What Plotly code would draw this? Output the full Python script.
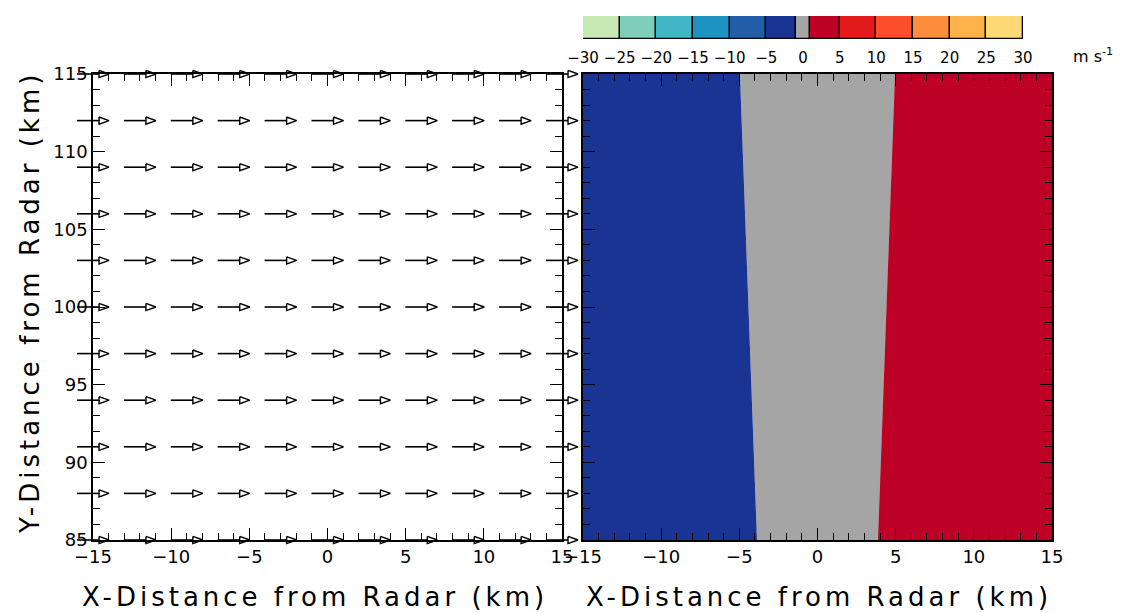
import plotly.graph_objects as go

# ---- data -------------------------------------------------------------
# wind-vector grid (km)
grid_x = [-15, -12, -9, -6, -3, 0, 3, 6, 9, 12, 15]
grid_y = [85, 88, 91, 94, 97, 100, 103, 106, 109, 112, 115]
vec_len = 2.05          # drawn vector length (km), uniform westerly flow

# radial-velocity field: zero-band edges (km) at the bottom and top rows
edge_y = [85, 115]
gray_left_x = [-3.87, -4.96]
gray_right_x = [3.87, 4.96]

# colour scale (m s^-1)
bin_edges = [-30, -25, -20, -15, -10, -5, -1, 1, 5, 10, 15, 20, 25, 30]
bin_colors = ["#c7e9b4", "#7fcdbb", "#41b6c4", "#1d91c0", "#225ea8", "#1a3494",
              "#a5a5a5",
              "#bd0026", "#e31a1c", "#fc4e2a", "#fd8d3c", "#feb24c", "#fed976"]
cbar_ticks = [-30, -25, -20, -15, -10, -5, 0, 5, 10, 15, 20, 25, 30]

axis_ticks = [-15, -10, -5, 0, 5, 10, 15]
y_ticks = [85, 90, 95, 100, 105, 110, 115]

# ---- layout geometry (pixels) ----------------------------------------
W, H = 1127, 613
L_BOX = (93, 562)        # left panel x pixels
R_BOX = (583, 1052)      # right panel x pixels
Y_BOX = (74, 540)        # both panels, top / bottom
CB_X = (583, 1023)
CB_Y = (16, 39)


def xd(a, b):
    return [a / W, b / W]


def yd(top, bot):
    return [1 - bot / H, 1 - top / H]


fig = go.Figure()

# left panel frame (empty white plot area)
fig.add_trace(go.Scatter(x=[None], y=[None], mode="lines", xaxis="x", yaxis="y",
                         hoverinfo="skip", showlegend=False))

# right panel: radial velocity regions
blue_x = [-15, gray_left_x[0], gray_left_x[1], -15]
blue_y = [edge_y[0], edge_y[0], edge_y[1], edge_y[1]]
gray_x = [gray_left_x[0], gray_right_x[0], gray_right_x[1], gray_left_x[1]]
gray_y = [edge_y[0], edge_y[0], edge_y[1], edge_y[1]]
red_x = [gray_right_x[0], 15, 15, gray_right_x[1]]
red_y = [edge_y[0], edge_y[0], edge_y[1], edge_y[1]]
for px, py, col in [(blue_x, blue_y, bin_colors[5]),
                    (gray_x, gray_y, bin_colors[6]),
                    (red_x, red_y, bin_colors[7])]:
    fig.add_trace(go.Scatter(x=px, y=py, fill="toself", fillcolor=col,
                             mode="lines", line=dict(color=col, width=0.6),
                             xaxis="x2", yaxis="y2", hoverinfo="skip",
                             showlegend=False))

# colour bar boxes
cb_centers = [(bin_edges[i] + bin_edges[i + 1]) / 2 for i in range(len(bin_colors))]
cb_widths = [bin_edges[i + 1] - bin_edges[i] for i in range(len(bin_colors))]
fig.add_trace(go.Bar(x=cb_centers, y=[1] * len(cb_centers), width=cb_widths,
                     marker=dict(color=bin_colors, line=dict(color="black", width=1.3)),
                     xaxis="x3", yaxis="y3", hoverinfo="skip", showlegend=False))

# wind vectors (open-headed arrows)
head_len = 0.64
head_half = 0.23
sx, sy, hx, hy = [], [], [], []
for yv in grid_y:
    for xv in grid_x:
        x0 = xv - vec_len / 2
        x1 = xv + vec_len / 2
        xb = x1 - head_len
        sx += [x0, xb, None]
        sy += [yv, yv, None]
        hx += [xb, x1, xb, xb, None]
        hy += [yv + head_half, yv, yv - head_half, yv + head_half, None]
fig.add_trace(go.Scatter(x=sx, y=sy, mode="lines",
                         line=dict(color="black", width=1.6),
                         xaxis="x4", yaxis="y4", hoverinfo="skip", showlegend=False))
fig.add_trace(go.Scatter(x=hx, y=hy, mode="lines",
                         line=dict(color="black", width=1.4),
                         xaxis="x4", yaxis="y4", hoverinfo="skip", showlegend=False))

tick_font = dict(family="DejaVu Sans", size=18, color="black")
minor = dict(dtick=1, ticklen=7, tickwidth=1.4, tickcolor="black", ticks="inside")


def frame_axis(**kw):
    d = dict(showline=True, linecolor="black", linewidth=1.6, mirror="ticks",
             ticks="inside", ticklen=12, tickwidth=1.4, tickcolor="black",
             showgrid=False, zeroline=False, tickfont=tick_font, minor=minor,
             automargin=False)
    d.update(kw)
    return d


# overlay axes for the vectors, same scale as the left panel but wider
pad_x, pad_y = 30, 20
kx = 30 / (L_BOX[1] - L_BOX[0])
ky = 30 / (Y_BOX[1] - Y_BOX[0])

fig.update_layout(
    width=W, height=H,
    margin=dict(l=0, r=0, t=0, b=0, autoexpand=False),
    paper_bgcolor="white", plot_bgcolor="rgba(0,0,0,0)",
    xaxis=frame_axis(domain=xd(*L_BOX), range=[-15, 15], tickvals=axis_ticks,
                     anchor="y", ticklabelstandoff=0),
    yaxis=frame_axis(domain=yd(*Y_BOX), range=[85, 115], tickvals=y_ticks,
                     anchor="x", ticklabelstandoff=0),
    xaxis2=frame_axis(domain=xd(*R_BOX), range=[-15, 15], tickvals=axis_ticks,
                      anchor="y2", ticklabelstandoff=0),
    yaxis2=frame_axis(domain=yd(*Y_BOX), range=[85, 115], tickvals=y_ticks,
                      showticklabels=False, anchor="x2"),
    xaxis3=dict(domain=xd(*CB_X), range=[-30, 30], tickvals=cbar_ticks,
                ticks="outside", ticklen=5, tickcolor="rgba(0,0,0,0)",
                showline=False, showgrid=False, zeroline=False, automargin=False,
                tickfont=dict(family="DejaVu Sans", size=15, color="black"),
                anchor="y3"),
    yaxis3=dict(domain=yd(*CB_Y), range=[0, 1], visible=False, anchor="x3",
                automargin=False),
    xaxis4=dict(domain=xd(L_BOX[0] - pad_x, L_BOX[1] + pad_x),
                range=[-15 - pad_x * kx, 15 + pad_x * kx], visible=False,
                anchor="y4", automargin=False),
    yaxis4=dict(domain=yd(Y_BOX[0] - pad_y, Y_BOX[1] + pad_y),
                range=[85 - pad_y * ky, 115 + pad_y * ky], visible=False,
                anchor="x4", automargin=False),
    bargap=0,
)

title_font = dict(family="DejaVu Sans", size=26, color="black")
spaced = '<span style="letter-spacing:4px">{}</span>'
fig.add_annotation(text=spaced.format("X-Distance from Radar (km)"),
                   x=315 / W, y=1 - 597 / H, xref="paper", yref="paper",
                   showarrow=False, font=title_font,
                   xanchor="center", yanchor="middle")
fig.add_annotation(text=spaced.format("X-Distance from Radar (km)"),
                   x=819 / W, y=1 - 597 / H, xref="paper", yref="paper",
                   showarrow=False, font=title_font,
                   xanchor="center", yanchor="middle")
fig.add_annotation(text=spaced.format("Y-Distance from Radar (km)"), x=30 / W,
                   y=1 - 303 / H, xref="paper", yref="paper",
                   showarrow=False, font=title_font, textangle=-90,
                   xanchor="center", yanchor="middle")
fig.add_annotation(text="m s<sup>-1</sup>", x=1093 / W, y=1 - 56 / H,
                   xref="paper", yref="paper", showarrow=False,
                   font=dict(family="DejaVu Sans", size=16, color="black"),
                   xanchor="center", yanchor="middle")

fig.write_html("out.html")
